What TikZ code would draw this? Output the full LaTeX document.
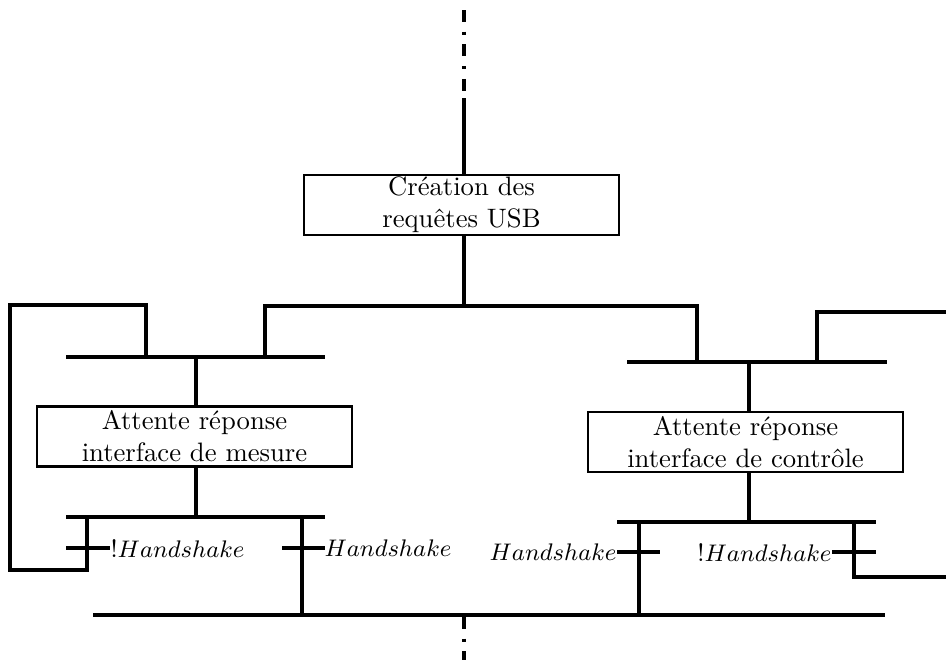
\documentclass[tikz,border=0pt]{standalone}
\begin{document}
\begin{tikzpicture}[x=0.375pt,y=-0.375pt,
  wire/.style={line width=1.3pt},
  stepbox/.style={draw,line width=0.85pt,minimum width=118.1pt,minimum height=22.5pt,align=center,inner sep=0pt},
  dashdot/.style={line width=1.3pt,dash pattern=on 4.5pt off 3.6pt on 1.2pt off 3.6pt},
  lbl/.style={inner sep=0pt,font=\fontsize{9.4pt}{11pt}\selectfont}]
\useasboundingbox (0,0) rectangle (946,660);
% boxes
\node[stepbox] (creation) at (461.5,205) {Création des\\requêtes USB};
\node[stepbox] (mesure) at (194.5,436.5) {Attente réponse\\interface de mesure};
\node[stepbox] (controle) at (745.5,442) {Attente réponse\\interface de contrôle};
% coordinates
\coordinate (t0) at (464,10);
\coordinate (t1) at (464,98);
\coordinate (d0) at (464,306);
\coordinate (dl) at (265,306);
\coordinate (dr) at (697,306);
\coordinate (lb1) at (66,357);
\coordinate (lb2) at (325,357);
\coordinate (rb1) at (627,362);
\coordinate (rb2) at (887,362);
\coordinate (lv) at (196,357);
\coordinate (rv) at (749,362);
\coordinate (lc1) at (66,517);
\coordinate (lc2) at (325,517);
\coordinate (rc1) at (617,522);
\coordinate (rc2) at (876,522);
\coordinate (bb1) at (93,615);
\coordinate (bb2) at (885,615);
\coordinate (bd0) at (464,617);
\coordinate (bd1) at (464,660);
% top entry
\draw[dashdot] (t0) -- (t1);
\draw[wire] (t1) -- (t1 |- creation.north);
\draw[wire] (creation.south -| d0) -- (d0);
\draw[wire] (dl |- lb1) -- (dl) -- (dr) -- (dr |- rb1);
% bars
\draw[wire] (lb1) -- (lb2);
\draw[wire] (rb1) -- (rb2);
\draw[wire] (lc1) -- (lc2);
\draw[wire] (rc1) -- (rc2);
\draw[wire] (bb1) -- (bb2);
% box links
\draw[wire] (lv) -- (lv |- mesure.north);
\draw[wire] (lv |- mesure.south) -- (lv |- lc1);
\draw[wire] (rv) -- (rv |- controle.north);
\draw[wire] (rv |- controle.south) -- (rv |- rc1);
% left loop
\draw[wire] (146,357) -- (146,305) -- (10,305) -- (10,570) -- (87,570) -- (87,517);
\draw[wire] (66,548) -- (110,548);
\node[lbl,anchor=west] (l1) at (110,548) {!$Handshake$};
% left-right transition
\draw[wire] (302,517) -- (302,615);
\draw[wire] (282,548) -- (325,548);
\node[lbl,anchor=west] (l2) at (324,548) {$Handshake$};
% right-left transition
\draw[wire] (639,522) -- (639,615);
\draw[wire] (617,552) -- (660,552);
\node[lbl,anchor=east] (r1) at (617,552) {$Handshake$};
% right loop
\draw[wire] (817,362) -- (817,312) -- (946,312);
\draw[wire] (854,522) -- (854,577) -- (946,577);
\draw[wire] (832,552) -- (876,552);
\node[lbl,anchor=east] (r2) at (832,552) {!$Handshake$};
% bottom exit
\draw[dashdot] (bd0) -- (bd1);
\end{tikzpicture}
\end{document}
